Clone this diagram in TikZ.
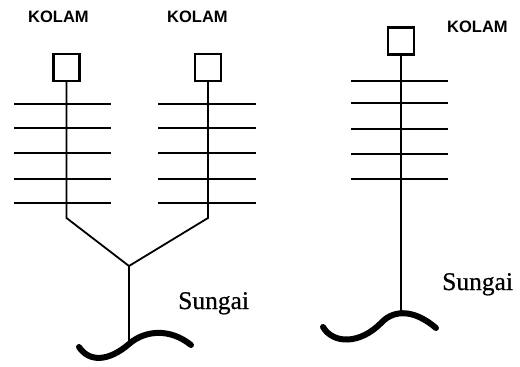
\documentclass[tikz,border=0pt]{standalone}
\usepackage{fontspec}
\setmainfont{Liberation Serif}
\newfontfamily\labelsans{Liberation Sans}
\newfontfamily\riverserif[FakeBold=0.6]{Liberation Serif}
\begin{document}
\begin{tikzpicture}[x=1pt,y=-1pt,
  pond/.style={draw,line width=2.1pt,minimum width=26pt,minimum height=27pt,inner sep=0pt},
  stem/.style={line width=1.8pt},
  rung/.style={line width=2.2pt},
  river/.style={line width=6pt,line cap=round},
  pondlabel/.style={font=\labelsans\bfseries\fontsize{16.5}{16.5}\selectfont,anchor=base west,inner sep=0pt},
  riverlabel/.style={font=\riverserif\fontsize{25.5}{25.5}\selectfont,anchor=base west,inner sep=0pt}]
\useasboundingbox (0,0) rectangle (520,367);

% labels
\node[pondlabel] (k1) at (28,22) {KOLAM};
\node[pondlabel] (k2) at (167,22.5) {KOLAM};
\node[pondlabel] (k3) at (447,32.5) {KOLAM};
\node[riverlabel] (s1) at (178,309) {Sungai};
\node[riverlabel] (s2) at (442,290) {Sungai};

% ponds
\node[pond] (p1) at (66.5,67.5) {};
\node[pond] (p2) at (208,67.5) {};
\node[pond] (p3) at (401,41) {};

% joints of the branching channel
\coordinate (b1) at (66.5,218);
\coordinate (b2) at (208,218);
\coordinate (j) at (129,266);
\coordinate (r1) at (129,344);
\coordinate (r2) at (401,314);

% channels
\draw[stem] (p1.south) -- (b1) -- (j);
\draw[stem] (p2.south) -- (b2) -- (j);
\draw[stem] (j) -- (r1);
\draw[stem] (p3.south) -- (r2);

% cross ditches
\foreach \y in {104,128,153,179,203}{
  \draw[rung] (14,\y) -- (111,\y);
  \draw[rung] (158,\y) -- (256,\y);
}
\foreach \y in {81,103,129,154,179}{
  \draw[rung] (351,\y) -- (448,\y);
}

% rivers
\draw[river] (79,347) .. controls (89,362) and (108,362) .. (r1)
  .. controls (145,330) and (170,328) .. (191,345);
\draw[river] (323,327) .. controls (333,344) and (360,345) .. (382,322)
  .. controls (395,309) and (415,310) .. (436,328);
\end{tikzpicture}
\end{document}
